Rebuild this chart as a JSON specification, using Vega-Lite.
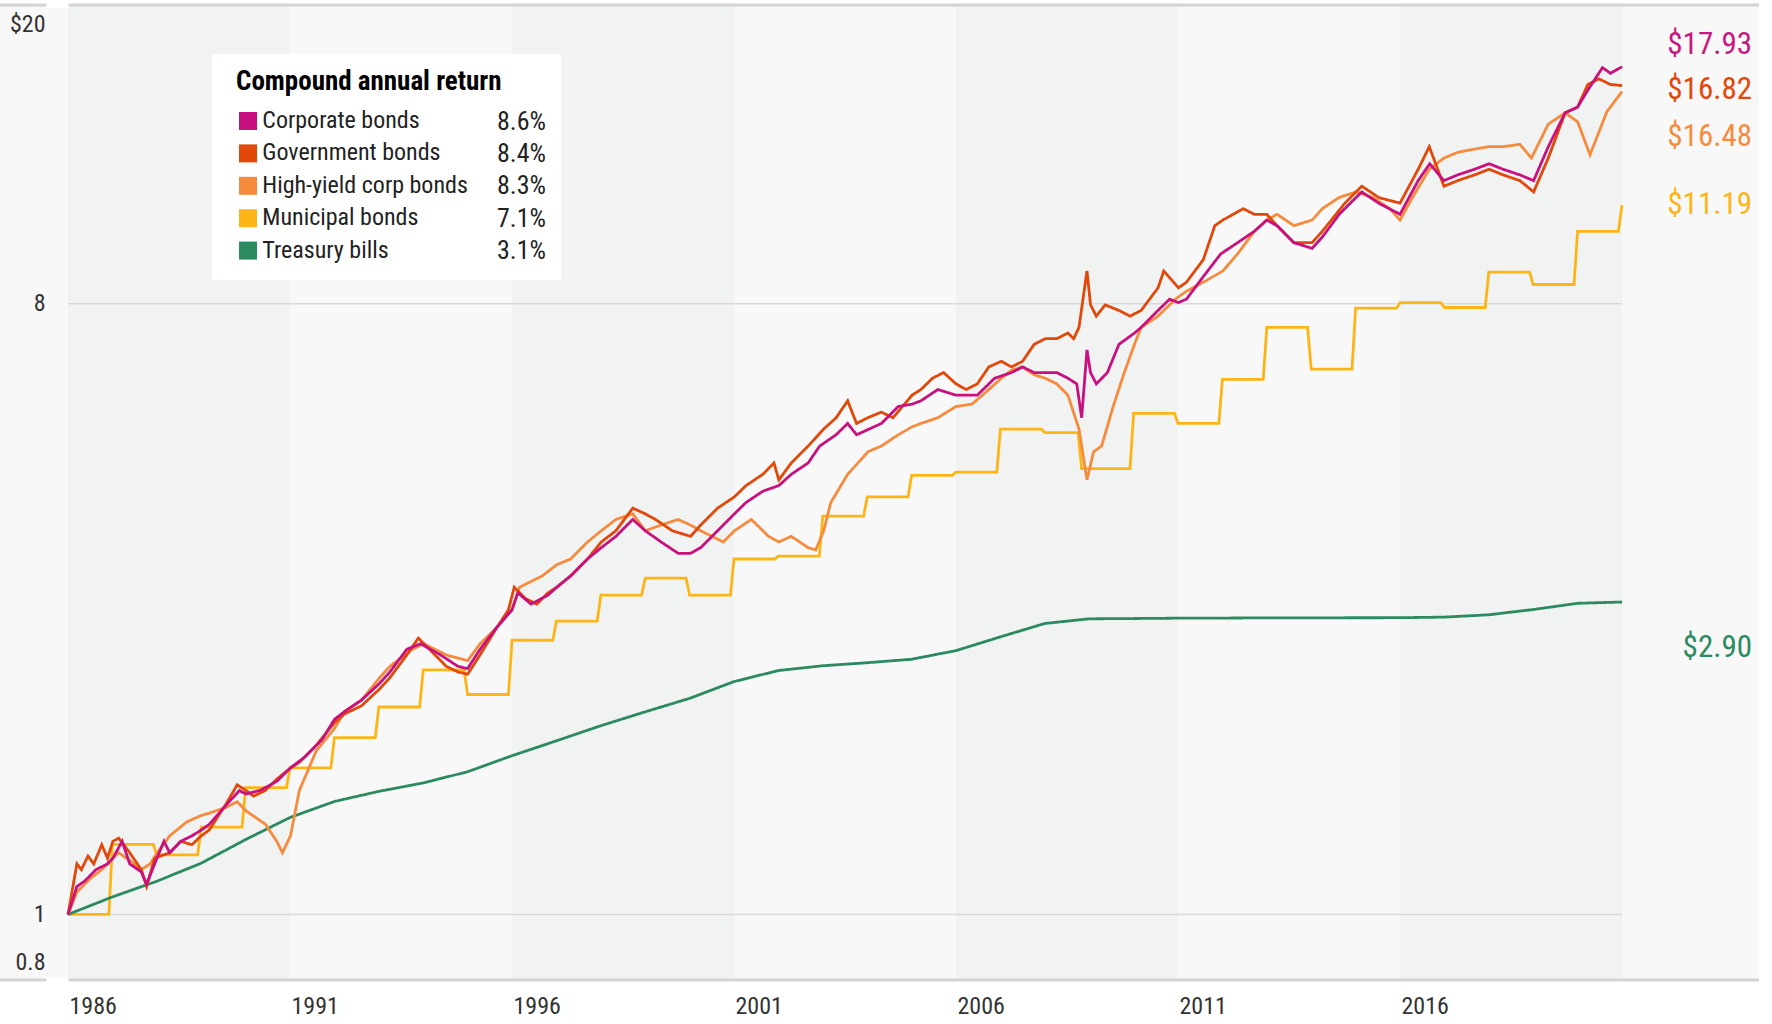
{
"$schema": "https://vega.github.io/schema/vega-lite/v6.json",
"width": 1759, "height": 975,
"autosize": {"type": "none"},
"padding": {"left": 0, "top": 5, "right": 13, "bottom": 44},
"background": "#ffffff",
"config": {"view": {"fill": "#f8f8f8", "stroke": null}, "font": "Roboto Condensed, Noto Sans Condensed, DejaVu Sans Condensed, sans-serif"},
"datasets": {
"bands": [{"start":1986,"end":1991},{"start":1996,"end":2001},{"start":2006,"end":2011},{"start":2016,"end":2021}],
"grid": [{"level":1},{"level":8}],
"border": [{"edge":0.8},{"edge":22.13}],
"pcts": [{"series":"C","pct":"8.6%"},{"series":"G","pct":"8.4%"},{"series":"H","pct":"8.3%"},{"series":"M","pct":"7.1%"},{"series":"T","pct":"3.1%"}],
"ends": [{"series":"C","value":17.93,"label":"$17.93"},{"series":"G","value":16.82,"label":"$16.82"},{"series":"H","value":16.48,"label":"$16.48"},{"series":"M","value":11.19,"label":"$11.19"},{"series":"T","value":2.90,"label":"$2.90"}],
"bonds": [
{"series":"M","year":1986.00,"value":1.00},{"series":"M","year":1986.92,"value":1.00},{"series":"M","year":1987.00,"value":1.27},{"series":"M","year":1987.92,"value":1.27},{"series":"M","year":1988.00,"value":1.225},{"series":"M","year":1988.92,"value":1.225},{"series":"M","year":1989.00,"value":1.346},{"series":"M","year":1989.92,"value":1.346},{"series":"M","year":1990.00,"value":1.54},{"series":"M","year":1990.92,"value":1.54},{"series":"M","year":1991.00,"value":1.647},{"series":"M","year":1991.92,"value":1.647},{"series":"M","year":1992.00,"value":1.826},{"series":"M","year":1992.92,"value":1.826},{"series":"M","year":1993.00,"value":2.027},{"series":"M","year":1993.92,"value":2.027},{"series":"M","year":1994.00,"value":2.30},{"series":"M","year":1994.92,"value":2.30},{"series":"M","year":1995.00,"value":2.115},{"series":"M","year":1995.92,"value":2.115},{"series":"M","year":1996.00,"value":2.544},{"series":"M","year":1996.92,"value":2.544},{"series":"M","year":1997.00,"value":2.716},{"series":"M","year":1997.92,"value":2.716},{"series":"M","year":1998.00,"value":2.967},{"series":"M","year":1998.92,"value":2.967},{"series":"M","year":1999.00,"value":3.143},{"series":"M","year":1999.92,"value":3.143},{"series":"M","year":2000.00,"value":2.967},{"series":"M","year":2000.92,"value":2.967},{"series":"M","year":2001.00,"value":3.355},{"series":"M","year":2001.92,"value":3.355},{"series":"M","year":2002.00,"value":3.388},{"series":"M","year":2002.92,"value":3.388},{"series":"M","year":2003.00,"value":3.883},{"series":"M","year":2003.92,"value":3.883},{"series":"M","year":2004.00,"value":4.146},{"series":"M","year":2004.92,"value":4.146},{"series":"M","year":2005.00,"value":4.459},{"series":"M","year":2005.92,"value":4.459},{"series":"M","year":2006.00,"value":4.51},{"series":"M","year":2006.92,"value":4.51},{"series":"M","year":2007.00,"value":5.222},{"series":"M","year":2007.92,"value":5.222},{"series":"M","year":2008.00,"value":5.16},{"series":"M","year":2008.75,"value":5.16},{"series":"M","year":2008.83,"value":4.564},{"series":"M","year":2009.92,"value":4.564},{"series":"M","year":2010.00,"value":5.51},{"series":"M","year":2010.92,"value":5.51},{"series":"M","year":2011.00,"value":5.323},{"series":"M","year":2011.92,"value":5.323},{"series":"M","year":2012.00,"value":6.185},{"series":"M","year":2012.92,"value":6.185},{"series":"M","year":2013.00,"value":7.382},{"series":"M","year":2013.92,"value":7.382},{"series":"M","year":2014.00,"value":6.403},{"series":"M","year":2014.92,"value":6.403},{"series":"M","year":2015.00,"value":7.882},{"series":"M","year":2015.92,"value":7.882},{"series":"M","year":2016.00,"value":8.03},{"series":"M","year":2016.92,"value":8.03},{"series":"M","year":2017.00,"value":7.90},{"series":"M","year":2017.92,"value":7.90},{"series":"M","year":2018.00,"value":8.913},{"series":"M","year":2018.92,"value":8.913},{"series":"M","year":2019.00,"value":8.544},{"series":"M","year":2019.92,"value":8.544},{"series":"M","year":2020.00,"value":10.24},{"series":"M","year":2020.92,"value":10.24},{"series":"M","year":2021.00,"value":11.19},
{"series":"T","year":1986,"value":1.0},{"series":"T","year":1987,"value":1.0616},{"series":"T","year":1988,"value":1.1197},{"series":"T","year":1989,"value":1.1908},{"series":"T","year":1990,"value":1.2905},{"series":"T","year":1991,"value":1.3913},{"series":"T","year":1992,"value":1.4692},{"series":"T","year":1993,"value":1.5208},{"series":"T","year":1994,"value":1.5649},{"series":"T","year":1995,"value":1.6259},{"series":"T","year":1996,"value":1.717},{"series":"T","year":1997,"value":1.8064},{"series":"T","year":1998,"value":1.9015},{"series":"T","year":1999,"value":1.9939},{"series":"T","year":2000,"value":2.0872},{"series":"T","year":2001,"value":2.2102},{"series":"T","year":2002,"value":2.2948},{"series":"T","year":2003,"value":2.3327},{"series":"T","year":2004,"value":2.3565},{"series":"T","year":2005,"value":2.3848},{"series":"T","year":2006,"value":2.4558},{"series":"T","year":2007,"value":2.5737},{"series":"T","year":2008,"value":2.6936},{"series":"T","year":2009,"value":2.7367},{"series":"T","year":2010,"value":2.7394},{"series":"T","year":2011,"value":2.7427},{"series":"T","year":2012,"value":2.7438},{"series":"T","year":2013,"value":2.7455},{"series":"T","year":2014,"value":2.746},{"series":"T","year":2015,"value":2.7466},{"series":"T","year":2016,"value":2.7471},{"series":"T","year":2017,"value":2.7526},{"series":"T","year":2018,"value":2.7746},{"series":"T","year":2019,"value":2.8248},{"series":"T","year":2020,"value":2.8853},{"series":"T","year":2021,"value":2.898},
{"series":"H","year":1986.00,"value":1.00},{"series":"H","year":1986.20,"value":1.079},{"series":"H","year":1986.50,"value":1.13},{"series":"H","year":1986.76,"value":1.165},{"series":"H","year":1987.01,"value":1.211},{"series":"H","year":1987.14,"value":1.234},{"series":"H","year":1987.39,"value":1.202},{"series":"H","year":1987.65,"value":1.165},{"series":"H","year":1987.85,"value":1.188},{"series":"H","year":1988.01,"value":1.234},{"series":"H","year":1988.29,"value":1.307},{"series":"H","year":1988.67,"value":1.37},{"series":"H","year":1989.00,"value":1.401},{"series":"H","year":1989.18,"value":1.412},{"series":"H","year":1989.56,"value":1.44},{"series":"H","year":1989.81,"value":1.468},{"series":"H","year":1990.01,"value":1.423},{"series":"H","year":1990.45,"value":1.359},{"series":"H","year":1990.70,"value":1.283},{"series":"H","year":1990.83,"value":1.234},{"series":"H","year":1991.01,"value":1.307},{"series":"H","year":1991.21,"value":1.525},{"series":"H","year":1991.59,"value":1.745},{"series":"H","year":1992.00,"value":1.884},{"series":"H","year":1992.23,"value":1.996},{"series":"H","year":1992.61,"value":2.075},{"series":"H","year":1993.02,"value":2.24},{"series":"H","year":1993.25,"value":2.328},{"series":"H","year":1993.76,"value":2.467},{"series":"H","year":1994.01,"value":2.514},{"series":"H","year":1994.52,"value":2.42},{"series":"H","year":1995.00,"value":2.373},{"series":"H","year":1995.28,"value":2.514},{"series":"H","year":1995.67,"value":2.664},{"series":"H","year":1996.00,"value":2.822},{"series":"H","year":1996.17,"value":3.048},{"series":"H","year":1996.68,"value":3.167},{"series":"H","year":1997.01,"value":3.291},{"series":"H","year":1997.32,"value":3.355},{"series":"H","year":1997.70,"value":3.555},{"series":"H","year":1998.01,"value":3.694},{"series":"H","year":1998.34,"value":3.839},{"series":"H","year":1998.72,"value":3.913},{"series":"H","year":1999.00,"value":3.694},{"series":"H","year":1999.36,"value":3.766},{"series":"H","year":1999.74,"value":3.839},{"series":"H","year":2000.02,"value":3.766},{"series":"H","year":2000.25,"value":3.694},{"series":"H","year":2000.76,"value":3.555},{"series":"H","year":2001.01,"value":3.694},{"series":"H","year":2001.39,"value":3.839},{"series":"H","year":2001.78,"value":3.624},{"series":"H","year":2002.01,"value":3.555},{"series":"H","year":2002.29,"value":3.624},{"series":"H","year":2002.67,"value":3.487},{"series":"H","year":2002.84,"value":3.46},{"series":"H","year":2003.02,"value":3.694},{"series":"H","year":2003.18,"value":4.067},{"series":"H","year":2003.56,"value":4.477},{"series":"H","year":2004.02,"value":4.835},{"series":"H","year":2004.32,"value":4.929},{"series":"H","year":2004.70,"value":5.122},{"series":"H","year":2005.01,"value":5.262},{"series":"H","year":2005.21,"value":5.323},{"series":"H","year":2005.59,"value":5.427},{"series":"H","year":2006.00,"value":5.64},{"series":"H","year":2006.36,"value":5.684},{"series":"H","year":2006.74,"value":5.975},{"series":"H","year":2007.02,"value":6.209},{"series":"H","year":2007.25,"value":6.38},{"series":"H","year":2007.50,"value":6.453},{"series":"H","year":2007.76,"value":6.282},{"series":"H","year":2008.01,"value":6.209},{"series":"H","year":2008.27,"value":6.091},{"series":"H","year":2008.52,"value":5.861},{"series":"H","year":2008.77,"value":5.222},{"series":"H","year":2008.95,"value":4.392},{"series":"H","year":2009.10,"value":4.835},{"series":"H","year":2009.28,"value":4.929},{"series":"H","year":2009.54,"value":5.64},{"series":"H","year":2009.79,"value":6.33},{"series":"H","year":2010.02,"value":6.969},{"series":"H","year":2010.17,"value":7.382},{"series":"H","year":2010.55,"value":7.672},{"series":"H","year":2010.94,"value":8.127},{"series":"H","year":2011.19,"value":8.35},{"series":"H","year":2011.57,"value":8.61},{"series":"H","year":2012.01,"value":8.947},{"series":"H","year":2012.34,"value":9.478},{"series":"H","year":2012.72,"value":10.24},{"series":"H","year":2013.00,"value":10.64},{"series":"H","year":2013.23,"value":10.85},{"series":"H","year":2013.61,"value":10.44},{"series":"H","year":2014.02,"value":10.64},{"series":"H","year":2014.25,"value":11.06},{"series":"H","year":2014.63,"value":11.49},{"series":"H","year":2015.01,"value":11.71},{"series":"H","year":2015.39,"value":11.49},{"series":"H","year":2015.77,"value":11.06},{"series":"H","year":2016.00,"value":10.64},{"series":"H","year":2016.28,"value":11.49},{"series":"H","year":2016.66,"value":12.65},{"series":"H","year":2016.99,"value":13.14},{"series":"H","year":2017.30,"value":13.4},{"series":"H","year":2017.68,"value":13.55},{"series":"H","year":2018.01,"value":13.66},{"series":"H","year":2018.32,"value":13.66},{"series":"H","year":2018.70,"value":13.77},{"series":"H","year":2018.96,"value":13.14},{"series":"H","year":2019.34,"value":14.75},{"series":"H","year":2019.72,"value":15.33},{"series":"H","year":2020.00,"value":14.87},{"series":"H","year":2020.28,"value":13.29},{"series":"H","year":2020.66,"value":15.39},{"series":"H","year":2021.00,"value":16.48},
{"series":"G","year":1986.00,"value":1.00},{"series":"G","year":1986.20,"value":1.188},{"series":"G","year":1986.30,"value":1.165},{"series":"G","year":1986.45,"value":1.22},{"series":"G","year":1986.58,"value":1.188},{"series":"G","year":1986.76,"value":1.268},{"series":"G","year":1986.89,"value":1.211},{"series":"G","year":1987.01,"value":1.283},{"series":"G","year":1987.14,"value":1.297},{"series":"G","year":1987.39,"value":1.234},{"series":"G","year":1987.65,"value":1.165},{"series":"G","year":1987.77,"value":1.10},{"series":"G","year":1987.95,"value":1.211},{"series":"G","year":1988.29,"value":1.234},{"series":"G","year":1988.54,"value":1.283},{"series":"G","year":1988.79,"value":1.268},{"series":"G","year":1989.00,"value":1.307},{"series":"G","year":1989.18,"value":1.333},{"series":"G","year":1989.56,"value":1.457},{"series":"G","year":1989.81,"value":1.555},{"series":"G","year":1990.01,"value":1.525},{"series":"G","year":1990.18,"value":1.496},{"series":"G","year":1990.44,"value":1.525},{"series":"G","year":1990.70,"value":1.585},{"series":"G","year":1991.01,"value":1.647},{"series":"G","year":1991.21,"value":1.679},{"series":"G","year":1991.59,"value":1.779},{"series":"G","year":1992.00,"value":1.921},{"series":"G","year":1992.23,"value":1.98},{"series":"G","year":1992.61,"value":2.035},{"series":"G","year":1993.02,"value":2.156},{"series":"G","year":1993.25,"value":2.24},{"series":"G","year":1993.63,"value":2.42},{"series":"G","year":1993.89,"value":2.563},{"series":"G","year":1994.52,"value":2.328},{"series":"G","year":1994.78,"value":2.284},{"series":"G","year":1995.00,"value":2.266},{"series":"G","year":1995.28,"value":2.42},{"series":"G","year":1995.67,"value":2.664},{"series":"G","year":1995.92,"value":2.822},{"series":"G","year":1996.05,"value":3.048},{"series":"G","year":1996.30,"value":2.933},{"series":"G","year":1996.56,"value":2.877},{"series":"G","year":1996.81,"value":2.99},{"series":"G","year":1997.01,"value":3.048},{"series":"G","year":1997.32,"value":3.167},{"series":"G","year":1997.70,"value":3.355},{"series":"G","year":1998.01,"value":3.555},{"series":"G","year":1998.34,"value":3.694},{"series":"G","year":1998.72,"value":3.989},{"series":"G","year":1999.00,"value":3.913},{"series":"G","year":1999.23,"value":3.839},{"series":"G","year":1999.61,"value":3.694},{"series":"G","year":2000.02,"value":3.624},{"series":"G","year":2000.25,"value":3.766},{"series":"G","year":2000.63,"value":3.989},{"series":"G","year":2001.01,"value":4.146},{"series":"G","year":2001.27,"value":4.308},{"series":"G","year":2001.65,"value":4.477},{"series":"G","year":2001.90,"value":4.653},{"series":"G","year":2002.01,"value":4.392},{"series":"G","year":2002.29,"value":4.653},{"series":"G","year":2002.67,"value":4.929},{"series":"G","year":2003.02,"value":5.222},{"series":"G","year":2003.30,"value":5.427},{"series":"G","year":2003.56,"value":5.749},{"series":"G","year":2003.76,"value":5.323},{"series":"G","year":2004.01,"value":5.427},{"series":"G","year":2004.32,"value":5.532},{"series":"G","year":2004.58,"value":5.427},{"series":"G","year":2005.01,"value":5.861},{"series":"G","year":2005.21,"value":5.975},{"series":"G","year":2005.47,"value":6.209},{"series":"G","year":2005.72,"value":6.33},{"series":"G","year":2006.00,"value":6.091},{"series":"G","year":2006.23,"value":5.975},{"series":"G","year":2006.48,"value":6.091},{"series":"G","year":2006.74,"value":6.453},{"series":"G","year":2007.02,"value":6.578},{"series":"G","year":2007.25,"value":6.453},{"series":"G","year":2007.50,"value":6.578},{"series":"G","year":2007.76,"value":6.969},{"series":"G","year":2008.01,"value":7.104},{"series":"G","year":2008.27,"value":7.104},{"series":"G","year":2008.52,"value":7.242},{"series":"G","year":2008.65,"value":7.104},{"series":"G","year":2008.77,"value":7.382},{"series":"G","year":2008.95,"value":8.947},{"series":"G","year":2009.03,"value":7.972},{"series":"G","year":2009.16,"value":7.672},{"series":"G","year":2009.36,"value":7.972},{"series":"G","year":2009.67,"value":7.821},{"series":"G","year":2009.92,"value":7.672},{"series":"G","year":2010.17,"value":7.821},{"series":"G","year":2010.55,"value":8.446},{"series":"G","year":2010.68,"value":8.947},{"series":"G","year":2011.01,"value":8.446},{"series":"G","year":2011.19,"value":8.61},{"series":"G","year":2011.57,"value":9.298},{"series":"G","year":2011.83,"value":10.44},{"series":"G","year":2012.01,"value":10.64},{"series":"G","year":2012.47,"value":11.06},{"series":"G","year":2012.72,"value":10.85},{"series":"G","year":2013.00,"value":10.85},{"series":"G","year":2013.23,"value":10.44},{"series":"G","year":2013.61,"value":9.85},{"series":"G","year":2014.02,"value":9.85},{"series":"G","year":2014.25,"value":10.24},{"series":"G","year":2014.76,"value":11.27},{"series":"G","year":2015.01,"value":11.71},{"series":"G","year":2015.14,"value":11.94},{"series":"G","year":2015.52,"value":11.49},{"series":"G","year":2016.00,"value":11.27},{"series":"G","year":2016.41,"value":12.65},{"series":"G","year":2016.66,"value":13.66},{"series":"G","year":2016.99,"value":11.94},{"series":"G","year":2017.30,"value":12.17},{"series":"G","year":2017.68,"value":12.41},{"series":"G","year":2018.01,"value":12.65},{"series":"G","year":2018.32,"value":12.41},{"series":"G","year":2018.70,"value":12.17},{"series":"G","year":2019.01,"value":11.71},{"series":"G","year":2019.34,"value":13.14},{"series":"G","year":2019.72,"value":15.33},{"series":"G","year":2020.00,"value":15.63},{"series":"G","year":2020.23,"value":16.88},{"series":"G","year":2020.48,"value":17.21},{"series":"G","year":2020.74,"value":16.88},{"series":"G","year":2021.00,"value":16.82},
{"series":"C","year":1986.00,"value":1.00},{"series":"C","year":1986.20,"value":1.10},{"series":"C","year":1986.38,"value":1.121},{"series":"C","year":1986.63,"value":1.165},{"series":"C","year":1986.89,"value":1.188},{"series":"C","year":1987.01,"value":1.211},{"series":"C","year":1987.22,"value":1.283},{"series":"C","year":1987.39,"value":1.188},{"series":"C","year":1987.65,"value":1.156},{"series":"C","year":1987.77,"value":1.108},{"series":"C","year":1987.95,"value":1.188},{"series":"C","year":1988.16,"value":1.283},{"series":"C","year":1988.29,"value":1.234},{"series":"C","year":1988.54,"value":1.283},{"series":"C","year":1988.79,"value":1.307},{"series":"C","year":1989.00,"value":1.333},{"series":"C","year":1989.18,"value":1.359},{"series":"C","year":1989.56,"value":1.451},{"series":"C","year":1989.86,"value":1.525},{"series":"C","year":1990.01,"value":1.507},{"series":"C","year":1990.32,"value":1.525},{"series":"C","year":1990.70,"value":1.573},{"series":"C","year":1991.01,"value":1.647},{"series":"C","year":1991.34,"value":1.711},{"series":"C","year":1991.72,"value":1.813},{"series":"C","year":1992.00,"value":1.943},{"series":"C","year":1992.23,"value":1.996},{"series":"C","year":1992.61,"value":2.075},{"series":"C","year":1993.02,"value":2.198},{"series":"C","year":1993.25,"value":2.284},{"series":"C","year":1993.63,"value":2.467},{"series":"C","year":1993.94,"value":2.514},{"series":"C","year":1994.39,"value":2.42},{"series":"C","year":1994.78,"value":2.328},{"series":"C","year":1995.00,"value":2.31},{"series":"C","year":1995.28,"value":2.467},{"series":"C","year":1995.67,"value":2.664},{"series":"C","year":1996.00,"value":2.822},{"series":"C","year":1996.13,"value":2.99},{"series":"C","year":1996.43,"value":2.877},{"series":"C","year":1996.81,"value":2.967},{"series":"C","year":1997.01,"value":3.048},{"series":"C","year":1997.32,"value":3.167},{"series":"C","year":1997.70,"value":3.355},{"series":"C","year":1998.01,"value":3.487},{"series":"C","year":1998.34,"value":3.624},{"series":"C","year":1998.72,"value":3.839},{"series":"C","year":1999.00,"value":3.694},{"series":"C","year":1999.36,"value":3.555},{"series":"C","year":1999.74,"value":3.421},{"series":"C","year":2000.02,"value":3.421},{"series":"C","year":2000.25,"value":3.487},{"series":"C","year":2000.63,"value":3.694},{"series":"C","year":2001.01,"value":3.913},{"series":"C","year":2001.27,"value":4.067},{"series":"C","year":2001.65,"value":4.226},{"series":"C","year":2002.01,"value":4.308},{"series":"C","year":2002.29,"value":4.477},{"series":"C","year":2002.67,"value":4.653},{"series":"C","year":2002.93,"value":4.929},{"series":"C","year":2003.30,"value":5.122},{"series":"C","year":2003.56,"value":5.323},{"series":"C","year":2003.76,"value":5.122},{"series":"C","year":2004.32,"value":5.323},{"series":"C","year":2004.70,"value":5.64},{"series":"C","year":2005.01,"value":5.684},{"series":"C","year":2005.21,"value":5.749},{"series":"C","year":2005.59,"value":5.975},{"series":"C","year":2006.00,"value":5.861},{"series":"C","year":2006.23,"value":5.861},{"series":"C","year":2006.48,"value":5.861},{"series":"C","year":2006.87,"value":6.209},{"series":"C","year":2007.25,"value":6.33},{"series":"C","year":2007.50,"value":6.453},{"series":"C","year":2007.76,"value":6.33},{"series":"C","year":2008.01,"value":6.33},{"series":"C","year":2008.27,"value":6.33},{"series":"C","year":2008.52,"value":6.209},{"series":"C","year":2008.72,"value":6.091},{"series":"C","year":2008.83,"value":5.427},{"series":"C","year":2008.95,"value":6.836},{"series":"C","year":2009.03,"value":6.33},{"series":"C","year":2009.16,"value":6.091},{"series":"C","year":2009.41,"value":6.33},{"series":"C","year":2009.67,"value":6.969},{"series":"C","year":2010.02,"value":7.242},{"series":"C","year":2010.17,"value":7.382},{"series":"C","year":2010.55,"value":7.821},{"series":"C","year":2010.81,"value":8.127},{"series":"C","year":2011.01,"value":8.033},{"series":"C","year":2011.19,"value":8.127},{"series":"C","year":2011.57,"value":8.777},{"series":"C","year":2011.96,"value":9.478},{"series":"C","year":2012.34,"value":9.85},{"series":"C","year":2012.72,"value":10.24},{"series":"C","year":2013.00,"value":10.64},{"series":"C","year":2013.23,"value":10.44},{"series":"C","year":2013.61,"value":9.85},{"series":"C","year":2014.02,"value":9.663},{"series":"C","year":2014.25,"value":10.04},{"series":"C","year":2014.63,"value":10.85},{"series":"C","year":2015.01,"value":11.49},{"series":"C","year":2015.14,"value":11.71},{"series":"C","year":2015.52,"value":11.27},{"series":"C","year":2016.00,"value":10.85},{"series":"C","year":2016.41,"value":12.17},{"series":"C","year":2016.67,"value":12.89},{"series":"C","year":2016.99,"value":12.17},{"series":"C","year":2017.30,"value":12.41},{"series":"C","year":2017.68,"value":12.65},{"series":"C","year":2018.01,"value":12.89},{"series":"C","year":2018.32,"value":12.65},{"series":"C","year":2018.70,"value":12.41},{"series":"C","year":2019.01,"value":12.17},{"series":"C","year":2019.34,"value":13.66},{"series":"C","year":2019.72,"value":15.33},{"series":"C","year":2020.00,"value":15.63},{"series":"C","year":2020.23,"value":16.56},{"series":"C","year":2020.56,"value":17.88},{"series":"C","year":2020.74,"value":17.54},{"series":"C","year":2021.00,"value":17.93}
]
},
"layer": [
{"data": {"name": "bands"}, "mark": {"type": "rect", "fill": "#f1f2f2"},
 "encoding": {
  "x": {"field": "start", "type": "quantitative", "title": null, "scale": {"domain": [1984.468, 2024.086], "nice": false, "zero": false},
   "axis": {"orient": "bottom", "values": [1986,1991,1996,2001,2006,2011,2016], "format": "d", "labelAlign": "left", "labelFlush": false, "labelBound": false, "domain": false, "ticks": false, "grid": false, "labelPadding": 14, "labelFontSize": 24, "labelColor": "#333333", "labelOffset": 1}},
  "x2": {"field": "end"},
  "y": {"value": 0}, "y2": {"value": "height"}}},
{"data": {"name": "grid"}, "mark": {"type": "rule", "color": "#d9d9d9", "strokeWidth": 1.5},
 "encoding": {
  "y": {"field": "level", "type": "quantitative", "title": null, "scale": {"type": "log", "domain": [0.8, 22.13], "nice": false},
   "axis": {"orient": "left", "offset": -68, "domain": false, "grid": false, "values": [0.8, 1, 8, 20, 22.13],
    "labelExpr": "datum.value == 20 ? '$20' : datum.value > 21 ? '' : datum.value < 0.9 ? '0.8' : datum.value == 1 ? '1' : '8'",
    "labelFontSize": 24, "labelColor": "#333333", "labelPadding": 1,
    "ticks": true, "tickSize": 22, "tickColor": "#ffffff", "tickWidth": 5,
    "tickOpacity": {"condition": {"test": "datum.value < 0.9 || datum.value > 21", "value": 1}, "value": 0},
    "labelOffset": {"condition": [{"test": "datum.value == 20", "value": -10}, {"test": "datum.value < 0.9", "value": -18}], "value": 0},
    "zindex": 1}},
  "x": {"datum": 1986}, "x2": {"datum": 2021}}},
{"data": {"name": "border"}, "mark": {"type": "rule", "color": "#d3d3d3", "strokeWidth": 3},
 "encoding": {"y": {"field": "edge", "type": "quantitative", "title": null}}},
{"data": {"name": "ends"},
 "mark": {"type": "point", "shape": "square", "filled": true, "size": 1},
 "encoding": {
  "x": {"datum": 2021},
  "y": {"field": "value", "type": "quantitative", "title": null},
  "fill": {"field": "series", "type": "nominal",
   "scale": {"domain": ["C","G","H","M","T"], "range": ["#C8107E","#E14809","#F78B3D","#FDB515","#2B8A5F"]},
   "legend": {"orient": "none", "legendX": 221, "legendY": 89, "zindex": 2, "title": null,
    "labelExpr": "datum.value == 'C' ? 'Corporate bonds' : datum.value == 'G' ? 'Government bonds' : datum.value == 'H' ? 'High-yield corp bonds' : datum.value == 'M' ? 'Municipal bonds' : 'Treasury bills'",
    "labelFontSize": 24, "labelColor": "#222222", "labelLimit": 400, "labelOffset": 2.3,
    "symbolType": "square", "symbolSize": 324, "symbolStrokeWidth": 0, "symbolOpacity": 1,
    "padding": 15, "rowPadding": 8.4}}}},
{"data": {"name": "bonds"},
 "transform": [{"lookup": "series", "from": {"data": {"name": "pcts"}, "key": "series", "fields": ["pct"]}}],
 "mark": {"type": "line", "strokeWidth": 2.8},
 "encoding": {
  "x": {"field": "year", "type": "quantitative", "title": null},
  "y": {"field": "value", "type": "quantitative", "title": null},
  "color": {"field": "series", "type": "nominal",
   "scale": {"domain": ["C","G","H","M","T"], "range": ["#C8107E","#E14809","#F78B3D","#FDB515","#2B8A5F"]},
   "legend": null},
  "strokeDash": {"field": "pct", "type": "nominal",
   "scale": {"domain": ["8.6%","8.4%","8.3%","7.1%","3.1%"], "range": [[1,0],[1,0],[1,0],[1,0],[1,0]]},
   "legend": {"orient": "none", "legendX": 212, "legendY": 49, "zindex": 1,
    "title": "Compound annual return", "titleFontSize": 27, "titleFontWeight": "bold", "titleColor": "#000000", "titlePadding": 12.6, "titleLimit": 1000,
    "labelFontSize": 26, "labelColor": "#222222", "labelOffset": 244,
    "symbolType": "square", "symbolSize": 324, "symbolStrokeWidth": 0, "symbolOpacity": 0,
    "fillColor": "#ffffff", "padding": 15, "rowPadding": 6.4,
    "encoding": {"title": {"dx": {"value": 9}}}}}}},
{"data": {"name": "ends"}, "transform": [{"filter": "datum.series == 'C'"}],
 "mark": {"type": "text", "x": "width", "dx": -7, "dy": -22, "align": "right", "baseline": "middle", "fontSize": 31, "color": "#C8177F"},
 "encoding": {"y": {"field": "value", "type": "quantitative", "title": null}, "text": {"field": "label"}}},
{"data": {"name": "ends"}, "transform": [{"filter": "datum.series == 'G'"}],
 "mark": {"type": "text", "x": "width", "dx": -7, "dy": 4, "align": "right", "baseline": "middle", "fontSize": 31, "color": "#E14809"},
 "encoding": {"y": {"field": "value", "type": "quantitative", "title": null}, "text": {"field": "label"}}},
{"data": {"name": "ends"}, "transform": [{"filter": "datum.series == 'H'"}],
 "mark": {"type": "text", "x": "width", "dx": -7, "dy": 45, "align": "right", "baseline": "middle", "fontSize": 31, "color": "#F78B3D"},
 "encoding": {"y": {"field": "value", "type": "quantitative", "title": null}, "text": {"field": "label"}}},
{"data": {"name": "ends"}, "transform": [{"filter": "datum.series == 'M'"}],
 "mark": {"type": "text", "x": "width", "dx": -7, "dy": 0, "align": "right", "baseline": "middle", "fontSize": 31, "color": "#FDB515"},
 "encoding": {"y": {"field": "value", "type": "quantitative", "title": null}, "text": {"field": "label"}}},
{"data": {"name": "ends"}, "transform": [{"filter": "datum.series == 'T'"}],
 "mark": {"type": "text", "x": "width", "dx": -7, "dy": 46, "align": "right", "baseline": "middle", "fontSize": 31, "color": "#2B8A5F"},
 "encoding": {"y": {"field": "value", "type": "quantitative", "title": null}, "text": {"field": "label"}}}
]
}
